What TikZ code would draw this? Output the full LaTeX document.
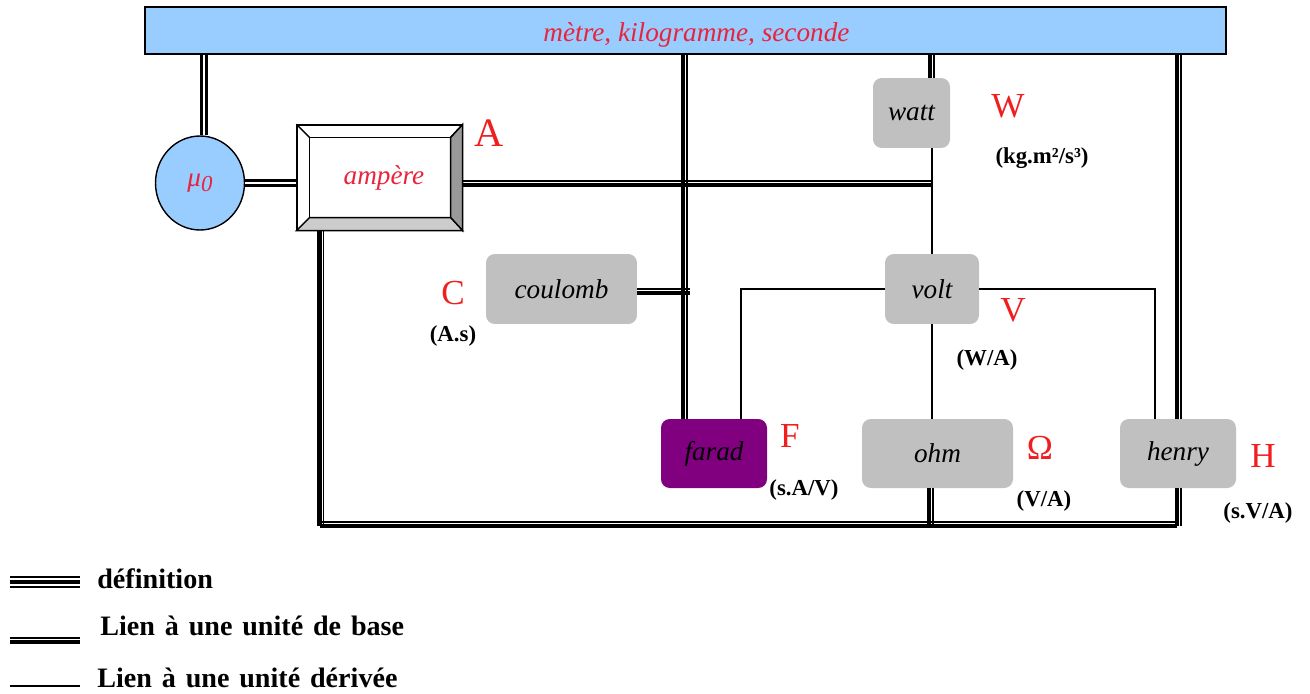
\documentclass[tikz,border=0pt]{standalone}
\usepackage{fontspec}
\setmainfont{Liberation Serif}
\usetikzlibrary{shapes.geometric}

\definecolor{barblue}{RGB}{153,204,255}
\definecolor{unitgray}{RGB}{192,192,192}
\definecolor{faradpurple}{RGB}{128,0,128}
\definecolor{symred}{RGB}{240,30,30}
\definecolor{namered}{RGB}{232,36,60}
\definecolor{bevdark}{RGB}{153,153,153}
\definecolor{bevlight}{RGB}{204,204,204}

\tikzset{
  unit/.style={rounded corners=5pt, fill=unitgray, inner sep=0pt, font=\fontsize{15.5}{16}\selectfont\itshape},
  symb/.style={text=symred, inner sep=0pt, font=\fontsize{20}{20}\selectfont},
  dims/.style={inner sep=0pt, font=\fontsize{13}{13}\selectfont\bfseries},
  legend/.style={inner sep=0pt, anchor=west, font=\fontsize{16}{16}\selectfont\bfseries,
    execute at begin node={\spaceskip=5.6pt plus 1pt\relax}},
  defline/.style={double, double distance=1.6pt, line width=1.3pt},
  baseh/.style={line width=2.5pt, postaction={draw, line width=0.8pt, transform canvas={yshift=2.3pt}}},
  basev/.style={line width=2.5pt, postaction={draw, line width=0.8pt, transform canvas={xshift=2.3pt}}},
  derline/.style={line width=0.8pt}
}

\begin{document}
\begin{tikzpicture}[x=0.02cm, y=-0.02cm]
\useasboundingbox (0,0) rectangle (1310,693);

%base units bar
\node[draw, line width=0.9pt, fill=barblue, minimum width=21.62cm, minimum height=0.94cm, inner sep=0pt,
  text height=0.55cm, text=namered, font=\fontsize{15.5}{16}\selectfont\itshape] (bar) at (685.5,30.5)
  {\hspace*{0.44cm}mètre, kilogramme, seconde};

%mu0 and ampere
\node[ellipse, draw, line width=0.8pt, fill=barblue, minimum width=1.78cm, minimum height=1.88cm, inner sep=0pt,
  text=namered, font=\fontsize{15.5}{16}\selectfont\itshape] (mu) at (200,183)
  {μ\raisebox{-0.45ex}{\fontsize{13}{13}\selectfont 0}};
\node[draw, line width=0.8pt, minimum width=3.3cm, minimum height=2.1cm, inner sep=0pt,
  text=namered, font=\fontsize{15.5}{16}\selectfont\itshape] (ampere) at (379.5,177.5)
  {\hspace*{0.18cm}\raisebox{0.06cm}{ampère}};

%bevel of the ampere box
\coordinate (ai1) at ([xshift=0.26cm,yshift=-0.26cm]ampere.north west);
\coordinate (ai2) at ([xshift=-0.24cm,yshift=-0.26cm]ampere.north east);
\coordinate (ai3) at ([xshift=-0.24cm,yshift=0.26cm]ampere.south east);
\coordinate (ai4) at ([xshift=0.26cm,yshift=0.26cm]ampere.south west);
\filldraw[fill=bevdark, line width=0.8pt] (ampere.north east) -- (ampere.south east) -- (ai3) -- (ai2) -- cycle;
\filldraw[fill=bevlight, line width=0.8pt] (ampere.south west) -- (ampere.south east) -- (ai3) -- (ai4) -- cycle;
\draw[line width=0.8pt] (ai1) rectangle (ai3);
\draw[line width=0.8pt] (ampere.north west) -- (ai1) (ampere.north east) -- (ai2);

%derived units
\node[unit, minimum width=1.54cm, minimum height=1.4cm] (watt) at (911.5,113) {watt};
\node[unit, minimum width=3.02cm, minimum height=1.4cm] (coulomb) at (561.5,289) {coulomb};
\node[unit, minimum width=1.88cm, minimum height=1.4cm] (volt) at (932,289) {volt};
\node[unit, fill=faradpurple, minimum width=2.12cm, minimum height=1.38cm] (farad) at (714,453.5) {farad};
\node[unit, minimum width=3.02cm, minimum height=1.38cm] (ohm) at (937.5,453.5) {ohm};
\node[unit, minimum width=2.32cm, minimum height=1.38cm] (henry) at (1178,453.5) {henry};

%symbols and dimensions
\node[symb, font=\fontsize{23}{23}\selectfont] (symA) at (489,133) {A};
\node[symb] (symW) at (1008,106) {W};
\node[dims] (dimW) at (1042,158) {(kg.m²/s³)};
\node[symb] (symC) at (453,293) {C};
\node[dims] (dimC) at (453,336) {(A.s)};
\node[symb] (symV) at (1013,310) {V};
\node[dims] (dimV) at (987,360) {(W/A)};
\node[symb] (symF) at (790,436) {F};
\node[dims] (dimF) at (804,490) {(s.A/V)};
\node[symb] (symO) at (1040,448) {Ω};
\node[dims] (dimO) at (1044,501) {(V/A)};
\node[symb] (symH) at (1263,456) {H};
\node[dims] (dimH) at (1258,513) {(s.V/A)};

%junction points
\coordinate (bl) at (319.5,526);
\coordinate (br) at (1177,526);
\coordinate (cx) at (683,293);
\coordinate (cj) at (690,293);
\coordinate (aj) at (932,185);
\coordinate (wb) at (930,60);
\coordinate (ob) at (929,500);
\coordinate (mb) at (204,100);
\coordinate (fj) at (741,419);
\coordinate (hj) at (1155,419);

%definitions
\draw[defline] (bar.south -| mb) -- (mu.north -| mb);
\draw[defline] (mu.east) -- (mu.east -| ampere.west);

%links to a base unit
\draw[baseh] (ampere.east |- aj) -- (aj);
\draw[basev] (bar.south -| cx) -- (farad.north -| cx);
\draw[baseh] (coulomb.east |- cj) -- (cj);
\draw[basev] (bar.south -| wb) -- (watt.north -| wb);
\draw[basev] (ampere.south -| bl) -- (bl);
\draw[baseh] (bl) -- (br);
\draw[basev] (ohm.south -| ob) -- (bl -| ob);
\draw[basev] (bar.south -| br) -- (henry.north -| br);
\draw[basev] (henry.south -| br) -- (br);

%links to a derived unit
\draw[derline] (watt.south -| volt.north) -- (volt.north);
\draw[derline] (volt.west) -| (fj);
\draw[derline] (volt.east) -| (hj);
\draw[derline] (volt.south) -- (ohm.north -| volt.south);

%legend
\coordinate (l1a) at (10,582);
\coordinate (l1b) at (80,582);
\coordinate (l2a) at (10,642);
\coordinate (l2b) at (80,642);
\coordinate (l3a) at (10,686);
\coordinate (l3b) at (80,686);
\draw[double, double distance=4.7pt, line width=0.9pt] (l1a) -- (l1b);
\draw[line width=2.2pt] (l1a) -- (l1b);
\draw[baseh] (l2a) -- (l2b);
\draw[derline] (l3a) -- (l3b);
\node[legend] (ldef) at (97,579) {définition};
\node[legend] (lbase) at (100,626) {Lien à une unité de base};
\node[legend] (lder) at (97,678) {Lien à une unité dérivée};

\end{tikzpicture}
\end{document}
